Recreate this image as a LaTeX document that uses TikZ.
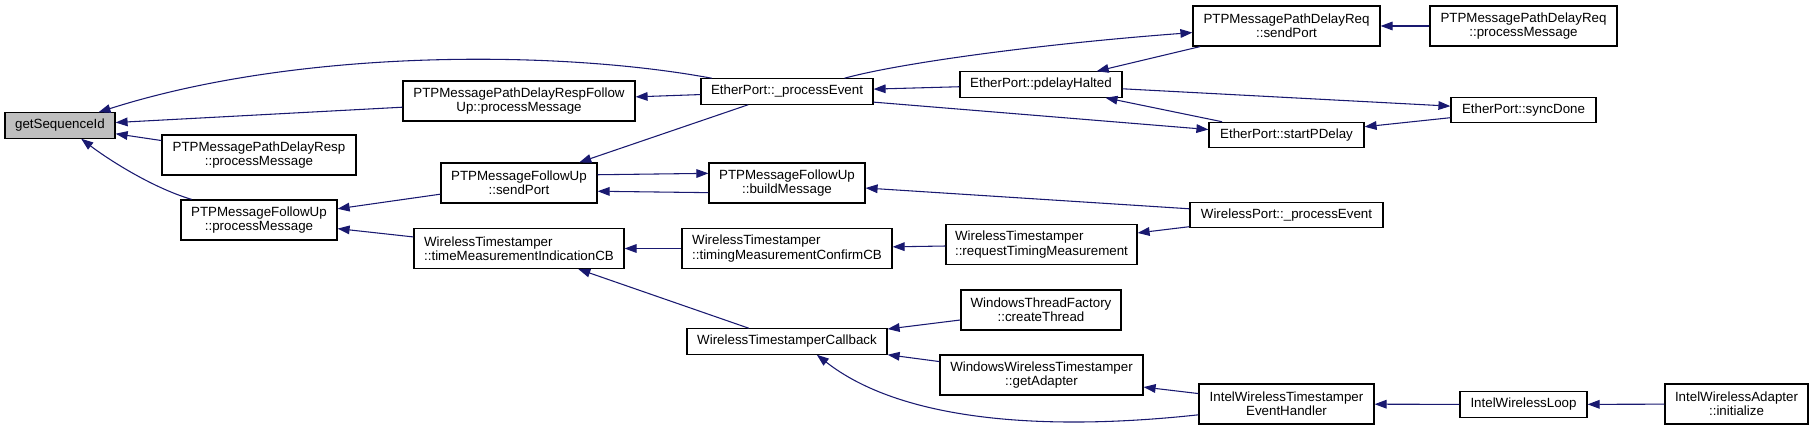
\documentclass[tikz,border=0pt]{standalone}
\usepackage{fontspec}
\setmainfont{Liberation Sans}
\usepackage{xcolor}
\definecolor{callblue}{HTML}{191970}
\definecolor{focusgrey}{HTML}{BFBFBF}
\usepackage{tikz}
\usetikzlibrary{arrows.meta}

\begin{document}
\begin{tikzpicture}[
  x=0.75pt, y=-0.75pt,
  every node/.style={font=\fontsize{10pt}{10.7pt}\selectfont},
  fnbox/.style={rectangle, draw=black, line width=0.9pt, fill=white,
                inner sep=0pt, align=center, minimum height=30pt},
  fnone/.style={fnbox, minimum height=19pt},
  callarr/.style={-{Triangle[length=9pt, width=6.5pt]}, draw=callblue,
                  line width=0.8pt}
]
  \useasboundingbox (0,0) rectangle (1813,431);

  \node[fnone, fill=focusgrey, minimum width=82.5pt] (gsid) at (60,125.5) {getSequenceId};
  \node[fnbox, minimum width=174pt] (rfu) at (519,101) {PTPMessagePathDelayRespFollow\\Up::processMessage};
  \node[fnbox, minimum width=145.5pt] (resp) at (259,155) {PTPMessagePathDelayResp\\::processMessage};
  \node[fnbox, minimum width=117pt] (fupm) at (259,220) {PTPMessageFollowUp\\::processMessage};
  \node[fnone, minimum width=129pt] (epe) at (787,91.5) {EtherPort::\_processEvent};
  \node[fnbox, minimum width=117pt] (fusp) at (519,183) {PTPMessageFollowUp\\::sendPort};
  \node[fnbox, align=left, minimum width=157.5pt] (tmicb) at (519,248.5) {WirelessTimestamper\\::timeMeasurementIndicationCB};
  \node[fnbox, minimum width=117pt] (fubm) at (787,183) {PTPMessageFollowUp\\::buildMessage};
  \node[fnbox, align=left, minimum width=157.5pt] (tmccb) at (787,248.5) {WirelessTimestamper\\::timingMeasurementConfirmCB};
  \node[fnone, minimum width=150pt] (wtcb) at (787,341.5) {WirelessTimestamperCallback};
  \node[fnbox, minimum width=140.25pt] (drsp) at (1286.5,26) {PTPMessagePathDelayReq\\::sendPort};
  \node[fnbox, minimum width=140.25pt] (drpm) at (1523.5,26) {PTPMessagePathDelayReq\\::processMessage};
  \node[fnone, minimum width=121.5pt] (eph) at (1041,84.5) {EtherPort::pdelayHalted};
  \node[fnone, minimum width=116.25pt] (esp) at (1286.5,135) {EtherPort::startPDelay};
  \node[fnone, minimum width=108.75pt] (esd) at (1523.5,110) {EtherPort::syncDone};
  \node[fnone, minimum width=144.75pt] (wpe) at (1286.5,215) {WirelessPort::\_processEvent};
  \node[fnbox, align=left, minimum width=143.25pt] (rtm) at (1041.5,244.5) {WirelessTimestamper\\::requestTimingMeasurement};
  \node[fnbox, minimum width=120pt] (wtf) at (1041,310) {WindowsThreadFactory\\::createThread};
  \node[fnbox, minimum width=152.25pt] (wga) at (1041.5,375) {WindowsWirelessTimestamper\\::getAdapter};
  \node[fnbox, minimum width=131.25pt] (iweh) at (1286.5,404) {IntelWirelessTimestamper\\EventHandler};
  \node[fnone, minimum width=95.25pt] (iwl) at (1523.5,404.5) {IntelWirelessLoop};
  \node[fnbox, minimum width=107.25pt] (iwai) at (1736.5,404) {IntelWirelessAdapter\\::initialize};

  \draw[callarr] (epe.170) .. controls (560,50) and (300,48) .. (gsid.19);
  \draw[callarr] (rfu) -- (gsid);
  \draw[callarr] (resp) -- (gsid);
  \draw[callarr] (fupm.163) .. controls (150,187) and (105,157) .. (gsid.-32);
  \draw[callarr] (epe) -- (rfu);
  \draw[callarr] (fusp) -- (fupm);
  \draw[callarr] (tmicb) -- (fupm);
  \draw[callarr] (epe) -- (fusp);
  \draw[callarr] (fusp.6.4) -- (fubm.173.6);
  \draw[callarr] (fubm.-173.6) -- (fusp.-6.4);
  \draw[callarr] (eph) -- (epe);
  \draw[callarr] (epe.13) .. controls (900,63) and (1040,44) .. (drsp.184);
  \draw[callarr] (epe.-7.6) -- (esp.176.3);
  \draw[callarr] (drsp) -- (eph);
  \draw[callarr] (esp) -- (eph);
  \draw[callarr] (eph) -- (esd);
  \draw[callarr] (esd) -- (esp);
  \draw[callarr] (drpm) -- (drsp);
  \draw[callarr] (wpe) -- (fubm);
  \draw[callarr] (tmccb) -- (tmicb);
  \draw[callarr] (wtcb) -- (tmicb);
  \draw[callarr] (rtm) -- (tmccb);
  \draw[callarr] (wpe) -- (rtm);
  \draw[callarr] (wtf) -- (wtcb);
  \draw[callarr] (wga) -- (wtcb);
  \draw[callarr] (iweh.187.8) .. controls (1040,432) and (900,420) .. (wtcb.-24);
  \draw[callarr] (iweh) -- (wga);
  \draw[callarr] (iwl) -- (iweh);
  \draw[callarr] (iwai) -- (iwl);
\end{tikzpicture}
\end{document}
